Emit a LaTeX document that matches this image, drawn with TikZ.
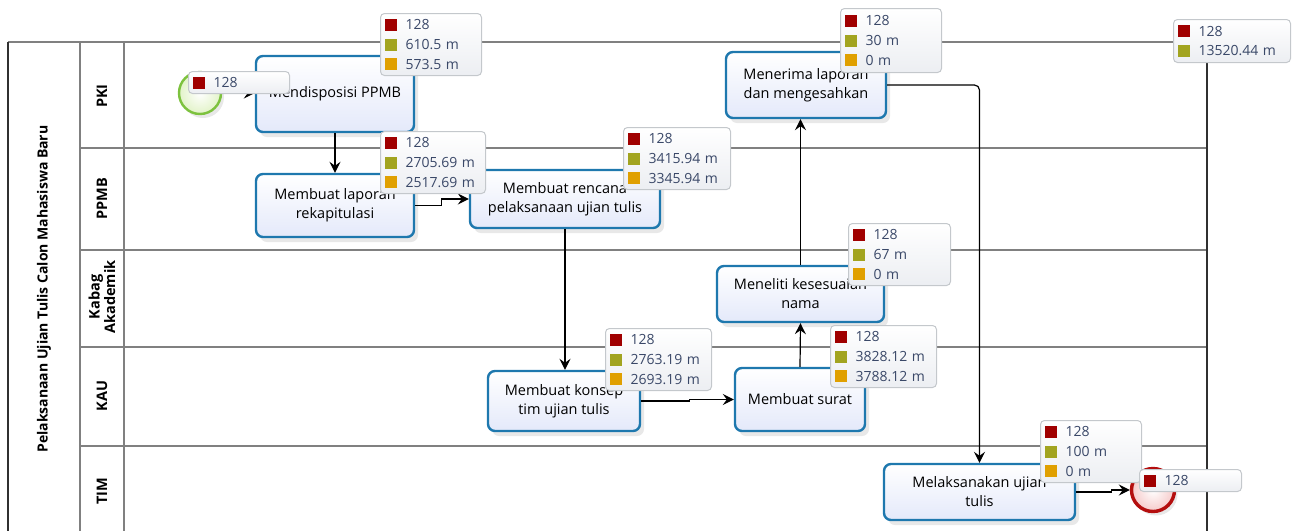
\documentclass[tikz,border=0pt]{standalone}
\usepackage{fontspec}
\setmainfont{Open Sans}
\usetikzlibrary{arrows.meta,shadows,calc}
\definecolor{taskline}{HTML}{1E78AE}
\definecolor{taskfill}{HTML}{E4E9FA}
\definecolor{statline}{HTML}{C4C8CC}
\definecolor{statfill}{HTML}{ECEEF2}
\definecolor{stattext}{HTML}{3A4868}
\definecolor{sqred}{HTML}{A00000}
\definecolor{sqolive}{HTML}{A2A420}
\definecolor{sqorange}{HTML}{E0A000}
\definecolor{laneline}{HTML}{808080}
\definecolor{poolline}{HTML}{303030}
\definecolor{startline}{HTML}{7DC23E}
\definecolor{startfill}{HTML}{E2F3C8}
\definecolor{endline}{HTML}{B40E0E}
\definecolor{endfill}{HTML}{F6CACA}
\newcommand{\sqrow}[2]{\makebox[21pt][l]{\textcolor{#1}{\rule[-1pt]{12pt}{12pt}}}#2}
\tikzset{
  lanesep/.style={draw=laneline, line width=1.2pt},
  poolborder/.style={draw=poolline, line width=1.4pt},
  lanelabel/.style={font=\bfseries\fontsize{14.5}{15.5}\selectfont, align=center, rotate=90, inner sep=0pt},
  pooltitle/.style={font=\bfseries\fontsize{14}{16}\selectfont, rotate=90, inner sep=0pt},
  task/.style={draw=taskline, line width=2.4pt, rounded corners=7pt,
    top color=white, bottom color=taskfill, align=center,
    font=\fontsize{14.5}{19}\selectfont, inner sep=2pt,
    drop shadow={opacity=0.18, shadow xshift=4pt, shadow yshift=-5pt}},
  stat/.style={draw=statline, line width=1pt, rounded corners=4pt,
    top color=white, bottom color=statfill, anchor=north west,
    inner xsep=4pt, inner ysep=0pt, align=left, text=stattext,
    font=\fontsize{14}{19.7}\selectfont},
  flow/.style={draw=black, line width=1.2pt, -{Stealth[length=11pt,width=11pt,inset=4pt]}},
  startev/.style={circle, draw=startline, line width=2.4pt, inner color=white, outer color=startfill,
    minimum size=42pt, inner sep=0pt, drop shadow={opacity=0.18, shadow xshift=3pt, shadow yshift=-4pt}},
  endev/.style={circle, draw=endline, line width=3.4pt, inner color=white, outer color=endfill,
    minimum size=43pt, inner sep=0pt, drop shadow={opacity=0.18, shadow xshift=3pt, shadow yshift=-4pt}}
}
\begin{document}
\begin{tikzpicture}[x=1pt, y=-1pt]
\useasboundingbox (0,0) rectangle (1301,531);
% pool and lanes
\draw[lanesep] (8,42) -- (1207,42);
\draw[lanesep] (80,148) -- (1207,148);
\draw[lanesep] (80,250) -- (1207,250);
\draw[lanesep] (80,347) -- (1207,347);
\draw[lanesep] (80,446) -- (1207,446);
\draw[lanesep] (80,42) -- (80,531);
\draw[lanesep] (124,42) -- (124,531);
\draw[poolborder] (8,42) -- (8,531);
\draw[poolborder] (1207,42) -- (1207,531);
\node[pooltitle] (pool) at (44,289) {Pelaksanaan Ujian Tulis Calon Mahasiswa Baru};
\node[lanelabel] (lpki) at (102,96) {PKI};
\node[lanelabel] (lppmb) at (102,199) {PPMB};
\node[lanelabel] (lkabag) at (102,297) {Kabag\\Akademik};
\node[lanelabel] (lkau) at (102,396) {KAU};
\node[lanelabel] (ltim) at (102,491) {TIM};
% events and tasks
\node[startev] (start) at (200,93) {};
\node[endev] (end) at (1153,490) {};
\node[task, minimum width=158pt, minimum height=76pt] (dis) at (335,94) {Mendisposisi PPMB};
\node[task, minimum width=158pt, minimum height=63pt] (lap) at (335,205.5) {Membuat laporan\\rekapitulasi};
\node[task, minimum width=190pt, minimum height=58pt] (ren) at (565,199) {Membuat rencana\\pelaksanaan ujian tulis};
\node[task, minimum width=160pt, minimum height=66pt] (ter) at (806,85) {Menerima laporan\\dan mengesahkan};
\node[task, minimum width=167pt, minimum height=56pt] (tel) at (800.5,294) {Meneliti kesesuaian\\nama};
\node[task, minimum width=152pt, minimum height=60pt] (kon) at (564,401) {Membuat konsep\\tim ujian tulis};
\node[task, minimum width=130pt, minimum height=63pt] (sur) at (800,399.5) {Membuat surat};
\node[task, minimum width=191pt, minimum height=56pt] (mel) at (979.5,492) {Melaksanakan ujian\\tulis};
% connectors
\draw[flow] (start.east) -- (start.east -| dis.west);
\draw[flow] (dis.south) -- (lap.north);
\draw[flow] (lap.east) -- ++(26,0) |- (ren.west);
\draw[flow] (ren.south) -- (ren.south |- kon.north);
\draw[flow] (kon.east) -- ++(48,0) |- (sur.west);
\draw[flow] (sur.north) -- (tel.south);
\draw[flow] (tel.north) -- (tel.north |- ter.south);
\draw[flow, rounded corners=5pt] (ter.east) -| (mel.north);
\draw[flow] (mel.east) -- ++(35,0) |- (end.west);
% statistics
\node[stat, text width=93pt, minimum height=22pt] (sK) at (188,71) {\sqrow{sqred}{128}};
\node[stat, text width=93pt, minimum height=62pt] (sA) at (380,13) {\sqrow{sqred}{128}\\\sqrow{sqolive}{610.5 m}\\\sqrow{sqorange}{573.5 m}};
\node[stat, text width=97pt, minimum height=62pt] (sB) at (380,131) {\sqrow{sqred}{128}\\\sqrow{sqolive}{2705.69 m}\\\sqrow{sqorange}{2517.69 m}};
\node[stat, text width=99pt, minimum height=62pt] (sC) at (623,127) {\sqrow{sqred}{128}\\\sqrow{sqolive}{3415.94 m}\\\sqrow{sqorange}{3345.94 m}};
\node[stat, text width=93pt, minimum height=64pt] (sD) at (840,8) {\sqrow{sqred}{128}\\\sqrow{sqolive}{30 m}\\\sqrow{sqorange}{0 m}};
\node[stat, text width=109pt, minimum height=43pt] (sE) at (1173,19) {\sqrow{sqred}{128}\\\sqrow{sqolive}{13520.44 m}};
\node[stat, text width=94pt, minimum height=62pt] (sF) at (848,223) {\sqrow{sqred}{128}\\\sqrow{sqolive}{67 m}\\\sqrow{sqorange}{0 m}};
\node[stat, text width=98pt, minimum height=62pt] (sG) at (605,328) {\sqrow{sqred}{128}\\\sqrow{sqolive}{2763.19 m}\\\sqrow{sqorange}{2693.19 m}};
\node[stat, text width=98pt, minimum height=62pt] (sH) at (830,325) {\sqrow{sqred}{128}\\\sqrow{sqolive}{3828.12 m}\\\sqrow{sqorange}{3788.12 m}};
\node[stat, text width=93pt, minimum height=62pt] (sI) at (1040,420) {\sqrow{sqred}{128}\\\sqrow{sqolive}{100 m}\\\sqrow{sqorange}{0 m}};
\node[stat, text width=94pt, minimum height=22pt] (sJ) at (1139,469) {\sqrow{sqred}{128}};
\end{tikzpicture}
\end{document}
